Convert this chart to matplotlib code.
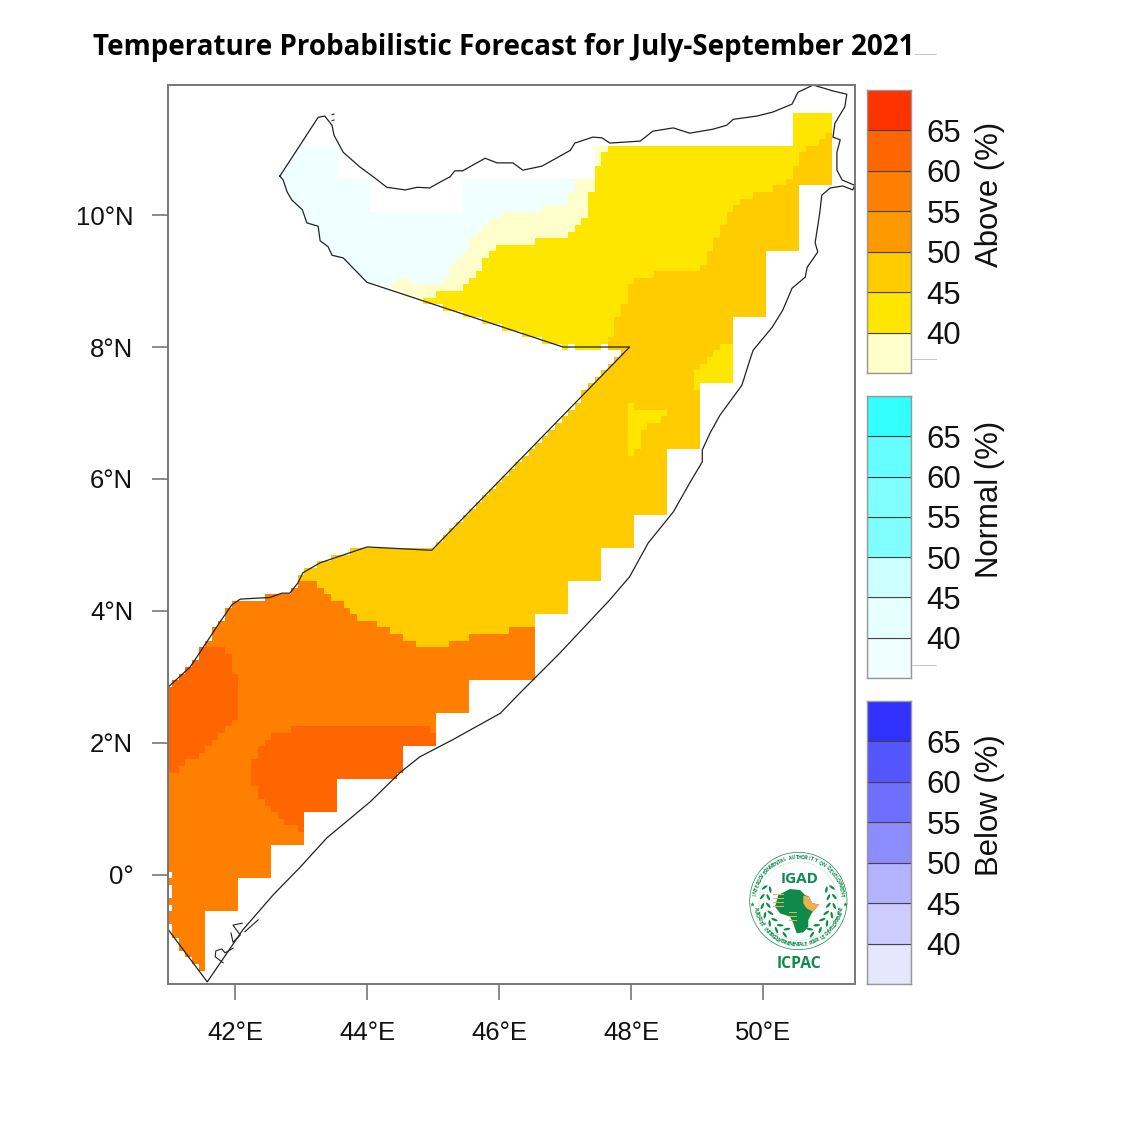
#!/usr/bin/env python3
"""Seasonal temperature forecast map for Somalia with tercile colour bars."""

import numpy as np
import matplotlib
matplotlib.use('Agg')
import matplotlib.pyplot as plt
from matplotlib.colors import ListedColormap, BoundaryNorm
from matplotlib.path import Path
from matplotlib.patches import Circle, Ellipse, Polygon

TITLE = "Temperature Probabilistic Forecast for July-September 2021"

BAR_LEVELS = [35, 40, 45, 50, 55, 60, 65]
BAR_TICKS = [40, 45, 50, 55, 60, 65]
ABOVE_COLORS = ['#FFFFCC', '#FFE600', '#FFCC00', '#FF9900', '#FF8000', '#FF6600', '#FF3300']
NORMAL_COLORS = ['#F0FFFF', '#E6FFFF', '#CCFFFF', '#80FFFF', '#80FFFF', '#66FFFF', '#33FFFF']
BELOW_COLORS = ['#E6E6FF', '#CCCCFF', '#B3B3FF', '#8C8CFF', '#6E6EFF', '#5555FF', '#3030FF']

LON_TICKS = [42, 44, 46, 48, 50]
LAT_TICKS = [0, 2, 4, 6, 8, 10]

# forecast classes used on the map
NORMAL_40, ABOVE_35, ABOVE_40, ABOVE_45, ABOVE_55, ABOVE_60 = 0, 1, 2, 3, 4, 5
MAP_COLORS = ['#F0FFFF', '#FFFFCC', '#FFE600', '#FFCC00', '#FF8000', '#FF6600']

# country outline, lon/lat
BORDER = [
    (42.68, 10.59), (43.26, 11.48), (43.36, 11.50), (43.47, 11.36), (43.50, 11.21), (43.64, 10.95),
    (43.89, 10.73), (44.12, 10.56), (44.30, 10.42), (44.58, 10.38), (44.76, 10.42), (44.95, 10.41),
    (45.11, 10.50), (45.26, 10.58), (45.33, 10.67), (45.45, 10.67), (45.61, 10.76), (45.79, 10.86),
    (45.97, 10.79), (46.21, 10.79), (46.36, 10.68), (46.65, 10.74), (46.92, 10.89), (47.08, 10.98),
    (47.15, 11.09), (47.42, 11.18), (47.56, 11.17), (47.68, 11.09), (48.14, 11.12), (48.33, 11.27),
    (48.64, 11.32), (48.89, 11.24), (49.24, 11.30), (49.45, 11.36), (49.55, 11.45), (49.91, 11.50),
    (50.15, 11.56), (50.44, 11.68), (50.53, 11.86), (50.76, 11.97), (51.06, 11.88), (51.27, 11.83),
    (51.24, 11.64), (51.09, 11.39), (51.06, 11.18), (51.17, 11.14), (51.12, 10.95), (51.12, 10.68),
    (51.20, 10.53), (51.39, 10.45), (51.36, 10.38), (51.21, 10.44), (51.02, 10.41), (50.89, 10.30),
    (50.86, 10.03), (50.79, 9.58), (50.83, 9.44), (50.67, 9.21), (50.64, 9.06), (50.44, 8.89),
    (50.30, 8.56), (50.14, 8.30), (49.85, 7.95), (49.80, 7.80), (49.68, 7.42), (49.35, 6.97),
    (49.20, 6.70), (49.08, 6.44), (49.08, 6.26), (48.89, 5.94), (48.64, 5.50), (48.26, 5.03),
    (47.98, 4.52), (47.68, 4.17), (46.92, 3.36), (46.62, 3.06), (46.32, 2.76), (46.02, 2.45),
    (45.30, 2.05), (44.80, 1.79), (44.50, 1.55), (44.05, 1.11), (43.39, 0.56), (42.98, 0.11),
    (42.58, -0.30), (42.12, -0.83), (41.58, -1.62), (40.99, -0.83), (40.99, 2.85), (41.32, 3.15),
    (41.44, 3.33), (41.77, 3.83), (41.95, 4.09), (42.08, 4.18), (42.53, 4.205), (42.71, 4.27),
    (42.83, 4.27), (42.95, 4.42), (43.03, 4.58), (43.29, 4.73), (44.00, 4.97), (44.98, 4.92),
    (47.98, 8.00), (46.97, 8.00), (44.00, 8.98), (43.64, 9.35), (43.47, 9.39), (43.41, 9.52),
    (43.29, 9.61), (43.26, 9.83), (43.09, 9.88), (43.02, 10.08), (42.86, 10.23), (42.79, 10.35),
    (42.73, 10.53), (42.68, 10.59),
]
ISLANDS = [
    [(41.82, -1.33), (41.70, -1.24), (41.71, -1.15), (41.80, -1.12), (41.85, -1.18), (41.97, -1.11)],
    [(41.94, -0.88), (41.97, -1.02), (42.08, -0.91), (41.97, -0.76), (42.11, -0.73)],
    [(42.15, -0.86), (42.35, -0.68)],
    [(43.47, 11.43), (43.50, 11.44)],
    [(43.47, 11.52), (43.50, 11.53)],
]

# area where the forecast has cells at all (stair-stepped along the coast)
DOMAIN = [
    (40.9, 11.05), (43.55, 11.05), (43.55, 10.55), (44.05, 10.55), (44.05, 10.05), (45.45, 10.05),
    (45.45, 10.55), (47.45, 10.55), (47.45, 11.05), (50.45, 11.05), (50.45, 11.55), (51.05, 11.55),
    (51.05, 10.45), (50.55, 10.45), (50.55, 9.45), (50.05, 9.45), (50.05, 8.45), (49.55, 8.45),
    (49.55, 7.45), (49.05, 7.45), (49.05, 6.45), (48.55, 6.45), (48.55, 5.45), (48.05, 5.45),
    (48.05, 4.95), (47.55, 4.95), (47.55, 4.45), (47.05, 4.45), (47.05, 3.95), (46.55, 3.95),
    (46.55, 2.95), (45.55, 2.95), (45.55, 2.45), (45.05, 2.45), (45.05, 1.95), (44.55, 1.95),
    (44.55, 1.45), (43.55, 1.45), (43.55, 0.95), (43.05, 0.95), (43.05, 0.45), (42.55, 0.45),
    (42.55, -0.05), (42.05, -0.05), (42.05, -0.55), (41.55, -0.55), (41.55, -1.45), (40.9, -1.45),
]
YELLOW_NORTH = [
    (51.1, 11.25), (50.95, 11.25), (50.95, 11.15), (50.85, 11.15), (50.85, 11.05), (50.65, 11.05),
    (50.65, 10.95), (50.55, 10.95), (50.55, 10.75), (50.45, 10.75), (50.45, 10.55), (50.35, 10.55),
    (50.35, 10.45), (50.15, 10.45), (50.15, 10.35), (49.85, 10.35), (49.85, 10.25), (49.65, 10.25),
    (49.65, 10.15), (49.55, 10.15), (49.55, 10.05), (49.45, 10.05), (49.45, 9.85), (49.35, 9.85),
    (49.35, 9.65), (49.25, 9.65), (49.25, 9.45), (49.15, 9.45), (49.15, 9.25), (49.05, 9.25),
    (49.05, 9.15), (48.35, 9.15), (48.35, 9.05), (48.05, 9.05), (48.05, 8.95), (47.95, 8.95),
    (47.95, 8.65), (47.85, 8.65), (47.85, 8.45), (47.75, 8.45), (47.75, 8.15), (47.65, 8.15),
    (47.65, 7.9), (42.0, 7.9), (42.0, 11.6), (51.1, 11.6),
]
YELLOW_POCKET_NE = [
    (49.55, 7.45), (49.55, 8.05), (49.35, 8.05), (49.35, 7.95), (49.25, 7.95), (49.25, 7.85),
    (49.15, 7.85), (49.15, 7.75), (49.05, 7.75), (49.05, 7.65), (48.95, 7.65), (48.95, 7.35),
    (49.05, 7.35), (49.05, 7.45),
]
YELLOW_POCKET_MID = [
    (47.95, 7.15), (48.05, 7.15), (48.05, 7.05), (48.55, 7.05), (48.55, 6.95), (48.45, 6.95),
    (48.45, 6.85), (48.25, 6.85), (48.25, 6.75), (48.15, 6.75), (48.15, 6.45), (48.05, 6.45),
    (48.05, 6.35), (47.95, 6.35),
]
PALE_NORTH = [
    (47.65, 11.1), (47.65, 10.95), (47.55, 10.95), (47.55, 10.75), (47.45, 10.75), (47.45, 10.35),
    (47.35, 10.35), (47.35, 9.95), (47.25, 9.95), (47.25, 9.85), (47.15, 9.85), (47.15, 9.75),
    (47.05, 9.75), (47.05, 9.65), (46.55, 9.65), (46.55, 9.55), (45.95, 9.55), (45.95, 9.45),
    (45.85, 9.45), (45.85, 9.35), (45.75, 9.35), (45.75, 9.15), (45.65, 9.15), (45.65, 9.05),
    (45.55, 9.05), (45.55, 8.95), (45.45, 8.95), (45.45, 8.85), (45.05, 8.85), (45.05, 8.75),
    (44.85, 8.75), (44.85, 8.5), (42.0, 8.5), (42.0, 11.1),
]
NORMAL_NORTH = [
    (47.15, 11.1), (47.15, 10.35), (47.05, 10.35), (47.05, 10.15), (46.65, 10.15), (46.65, 10.05),
    (46.05, 10.05), (46.05, 9.95), (45.85, 9.95), (45.85, 9.85), (45.75, 9.85), (45.75, 9.75),
    (45.65, 9.75), (45.65, 9.65), (45.55, 9.65), (45.55, 9.45), (45.45, 9.45), (45.45, 9.35),
    (45.35, 9.35), (45.35, 9.25), (45.25, 9.25), (45.25, 9.05), (45.15, 9.05), (45.15, 8.95),
    (44.65, 8.95), (44.65, 9.05), (44.45, 9.05), (44.45, 8.95), (44.35, 8.95), (44.35, 8.8),
    (42.0, 8.8), (42.0, 11.1),
]
ORANGE_SOUTH = [
    (46.6, 3.75), (46.15, 3.75), (46.15, 3.65), (45.55, 3.65), (45.55, 3.55), (45.25, 3.55),
    (45.25, 3.45), (44.75, 3.45), (44.75, 3.55), (44.55, 3.55), (44.55, 3.65), (44.35, 3.65),
    (44.35, 3.75), (44.15, 3.75), (44.15, 3.85), (43.85, 3.85), (43.85, 3.95), (43.75, 3.95),
    (43.75, 4.05), (43.65, 4.05), (43.65, 4.15), (43.45, 4.15), (43.45, 4.25), (43.35, 4.25),
    (43.35, 4.35), (43.25, 4.35), (43.25, 4.45), (43.05, 4.45), (40.9, 4.45), (40.9, -1.6),
    (46.6, -1.6),
]
DARK_WEST = [
    (40.9, 1.55), (41.15, 1.55), (41.15, 1.65), (41.25, 1.65), (41.25, 1.75), (41.45, 1.75),
    (41.45, 1.85), (41.55, 1.85), (41.55, 1.95), (41.65, 1.95), (41.65, 2.05), (41.75, 2.05),
    (41.75, 2.15), (41.85, 2.15), (41.85, 2.25), (41.95, 2.25), (41.95, 2.35), (42.05, 2.35),
    (42.05, 3.05), (41.95, 3.05), (41.95, 3.35), (41.85, 3.35), (41.85, 3.45), (40.9, 3.45),
]
DARK_CENTRE = [
    (42.25, 1.75), (42.35, 1.75), (42.35, 1.95), (42.45, 1.95), (42.45, 2.05), (42.55, 2.05),
    (42.55, 2.15), (42.85, 2.15), (42.85, 2.25), (44.95, 2.25), (44.95, 2.15), (45.05, 2.15),
    (45.05, 0.65), (42.95, 0.65), (42.95, 0.75), (42.75, 0.75), (42.75, 0.85), (42.65, 0.85),
    (42.65, 0.95), (42.55, 0.95), (42.55, 1.05), (42.45, 1.05), (42.45, 1.15), (42.35, 1.15),
    (42.35, 1.35), (42.25, 1.35),
]
# latitudes of the gaps in the westernmost column
WEST_GAPS = [0.0, -0.2, -0.3, -0.5, -0.8]
# longitudes of the cells filled along the 8N line
ROW_8N_LONS = [47.0, 47.2, 47.3, 47.4, 47.5, 47.7, 47.8, 47.9]

LAYERS = [
    (YELLOW_NORTH, ABOVE_40), (PALE_NORTH, ABOVE_35), (NORMAL_NORTH, NORMAL_40),
    (YELLOW_POCKET_NE, ABOVE_40), (YELLOW_POCKET_MID, ABOVE_40),
    (ORANGE_SOUTH, ABOVE_55), (DARK_WEST, ABOVE_60), (DARK_CENTRE, ABOVE_60),
]

PX = 1125.0


def px_rect(left, top, right, bottom):
    """Figure rectangle from picture pixels."""
    return [left / PX, 1 - bottom / PX, (right - left) / PX, (bottom - top) / PX]


def build_grid():
    """Fill the 0.1 degree forecast grid from the class outlines."""
    lons = np.arange(410, 511) / 10.0
    lats = np.arange(-15, 116) / 10.0
    lon2d, lat2d = np.meshgrid(lons, lats)
    cells = np.column_stack([lon2d.ravel(), lat2d.ravel()])

    grid = np.full(lon2d.shape, float(ABOVE_45))
    for outline, value in LAYERS:
        inside = Path(outline).contains_points(cells).reshape(lon2d.shape)
        grid[inside] = value

    keep = Path(DOMAIN).contains_points(cells) & Path(BORDER).contains_points(cells)
    keep = keep.reshape(lon2d.shape)
    row_8n = np.argmin(np.abs(lats - 8.0))
    keep[row_8n, :] = False
    for lon in ROW_8N_LONS:
        keep[row_8n, np.argmin(np.abs(lons - lon))] = True
    keep[row_8n, lons > 48.0] = Path(DOMAIN).contains_points(cells).reshape(lon2d.shape)[row_8n, lons > 48.0]
    keep[row_8n, np.argmin(np.abs(lons - 48.0))] = True
    grid[~keep] = np.nan
    for lat in WEST_GAPS:
        grid[np.argmin(np.abs(lats - lat)), 0] = np.nan
    return lons, lats, grid


def draw_colorbar(fig, rect, colors, label):
    ax = fig.add_axes(rect)
    ax.bar([0] * len(colors), [5] * len(colors), bottom=BAR_LEVELS, width=1, color=colors,
           edgecolor='#444444', linewidth=0.8)
    ax.set_xlim(-0.5, 0.5)
    ax.set_ylim(35, 70)
    ax.set_xticks([])
    ax.yaxis.tick_right()
    ax.set_yticks(BAR_TICKS)
    ax.tick_params(axis='y', length=0, pad=11, labelsize=22.4, labelcolor='#111111')
    for spine in ax.spines.values():
        spine.set_color('#999999')
        spine.set_linewidth(1.0)
    ax.text(2.8, 0.632, label, transform=ax.transAxes, rotation=90, ha='center', va='center',
            fontsize=22.4, color='#111111')


def draw_logo(fig):
    """IGAD / ICPAC badge, drawn in the coordinates of a 3x crop."""
    green = '#0E8A4A'
    ax = fig.add_axes(px_rect(740, 845, 860, 985))
    ax.set_xlim(0, 360)
    ax.set_ylim(420, 0)
    ax.axis('off')
    cx, cy = 175, 168
    ax.add_patch(Circle((cx, cy), 146, fill=False, ec=green, lw=0.5))
    ax.add_patch(Circle((cx, cy), 118, fill=False, ec='#BBD9C8', lw=0.3))

    def ring_text(text, start, stop, flip):
        for ch, ang in zip(text, np.linspace(start, stop, len(text))):
            a = np.radians(ang)
            rot = ang - 90 if not flip else ang + 90
            ax.text(cx + 131 * np.cos(a), cy - 131 * np.sin(a), ch, rotation=rot, ha='center', va='center',
                    fontsize=3.6, color=green, family='Open Sans', fontweight='bold')

    ring_text("INTERGOVERNMENTAL AUTHORITY ON DEVELOPMENT", 172, 8, False)
    ring_text("AUTORITÉ INTERGOUVERNEMENTALE POUR LE DÉVELOPPEMENT", 190, 350, True)
    ax.text(178, 103, "IGAD", ha='center', va='center', fontsize=11, fontweight='bold',
            family='Open Sans', color=green)
    ax.text(177, 358, "ICPAC", ha='center', va='center', fontsize=11.3, fontweight='bold',
            family='Open Sans', color=green)

    ax.add_patch(Polygon([(115, 150), (150, 132), (180, 135), (195, 150), (207, 155), (217, 175), (238, 178),
                          (215, 205), (205, 225), (205, 245), (190, 262), (170, 265), (160, 235), (150, 215),
                          (120, 205), (105, 185)], fc=green, ec='none'))
    ax.add_patch(Polygon([(190, 152), (207, 155), (217, 175), (238, 178), (218, 200), (200, 190), (190, 175)],
                         fc='#F0B050', ec='none'))
    for y in (148, 160, 172, 184):
        ax.plot([98, 128], [y, y], color='#F0B050', lw=0.7)
    for y in (200, 212, 224):
        ax.plot([146, 168], [y, y], color='#F0B050', lw=0.7)

    # laurel branches, pairs of leaves along an arc
    for side in (-1, 1):
        for ang in np.arange(-22, 74, 15):
            a = np.radians(ang)
            x = cx + side * 100 * np.cos(a)
            y = cy + 100 * np.sin(a)
            tangent = 90 + ang
            for off, lean in ((-9, 32), (9, -32)):
                lx = x + side * off * np.cos(a)
                ly = y + off * np.sin(a)
                ax.add_patch(Ellipse((lx, ly), 20, 7, angle=side * (tangent + lean), fc=green, ec='none'))
    for x in (35, 315):
        ax.plot(x, 178, marker='*', color=green, ms=3.5, mew=0)


def main():
    lons, lats, grid = build_grid()

    fig = plt.figure(figsize=(11.25, 11.25), dpi=100)
    plt.rcParams['font.family'] = ['Liberation Sans', 'DejaVu Sans']

    ax = fig.add_axes(px_rect(168, 85, 855, 984))
    cmap = ListedColormap(MAP_COLORS)
    norm = BoundaryNorm(np.arange(-0.5, len(MAP_COLORS)), cmap.N)
    ax.pcolormesh(lons, lats, grid, cmap=cmap, norm=norm, shading='nearest', antialiased=False)

    border = np.array(BORDER)
    ax.plot(border[:, 0], border[:, 1], color='#222222', lw=0.9)
    for piece in ISLANDS:
        piece = np.array(piece)
        ax.plot(piece[:, 0], piece[:, 1], color='#222222', lw=0.8)

    ax.set_xlim(40.985, 51.394)
    ax.set_ylim(-1.652, 11.97)
    ax.set_xticks(LON_TICKS)
    ax.set_xticklabels([f"{v}°E" for v in LON_TICKS])
    ax.set_yticks(LAT_TICKS)
    ax.set_yticklabels([f"{v}°N" if v else "0°" for v in LAT_TICKS])
    ax.tick_params(length=11.5, width=1.2, color='#777777', labelsize=18.5, labelcolor='#111111')
    ax.tick_params(axis='x', pad=15.5)
    ax.tick_params(axis='y', pad=13.5)
    for spine in ax.spines.values():
        spine.set_color('#777777')
        spine.set_linewidth(1.4)

    draw_colorbar(fig, px_rect(867, 90, 911, 373), ABOVE_COLORS, "Above (%)")
    draw_colorbar(fig, px_rect(867, 396, 911, 678), NORMAL_COLORS, "Normal (%)")
    draw_colorbar(fig, px_rect(867, 701, 911, 984), BELOW_COLORS, "Below (%)")

    draw_logo(fig)

    fig.text(504 / PX, 1 - 47 / PX, TITLE, ha='center', va='center', fontsize=19.95, fontweight='bold',
             family='Open Sans', color='black')

    # stray hairlines next to the panels
    for x0, x1, y in [(915, 936, 54), (912, 936, 359), (912, 936, 665)]:
        fig.add_artist(plt.Line2D([x0 / PX, x1 / PX], [1 - y / PX, 1 - y / PX], color='#BBBBBB', lw=0.6))

    fig.savefig('out.png', dpi=100)


if __name__ == "__main__":
    main()
